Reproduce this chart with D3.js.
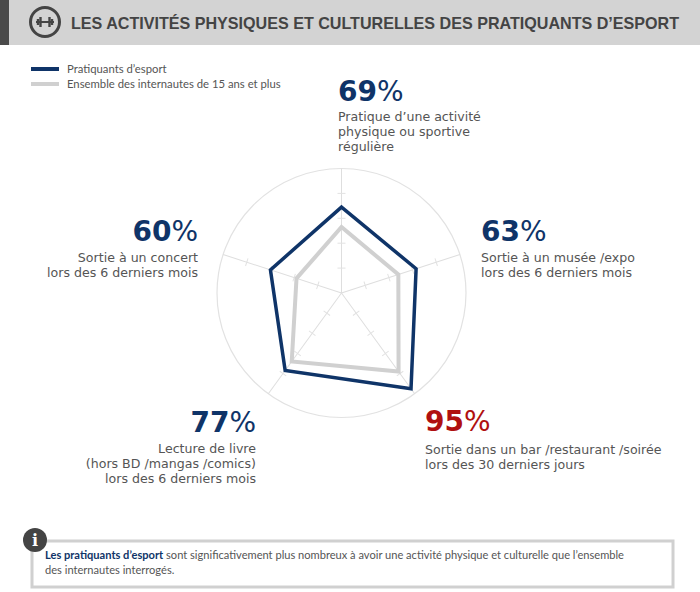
<!DOCTYPE html>
<html>
<head>
<meta charset="utf-8">
<script src="https://cdn.jsdelivr.net/npm/d3@7"></script>
<style>
  html, body { margin: 0; padding: 0; background: #fff; }
  svg { display: block; }
  text { font-family: "Lato", sans-serif; fill: #555; }
  .pct { font-family: "DejaVu Sans", sans-serif; font-weight: 700; font-size: 28px; }
  .pct .sign { font-weight: 400; }
  .line { font-family: "DejaVu Sans", sans-serif; font-size: 12.6px; }
</style>
</head>
<body>
<svg id="chart" width="700" height="592"></svg>
<script>
// values, clockwise from the top
const categories = ['Activité physique', 'Musée / expo', 'Bar / restaurant / soirée', 'Livre', 'Concert'];
const pratiquants = [69, 63, 95, 77, 60];
const ensemble = [53, 48, 78, 68, 38];
const ticks = [20, 40, 60, 80];

const seriesNames = ['Pratiquants d’esport', 'Ensemble des internautes de 15 ans et plus'];
const labelLines = [
  ['Pratique d’une activité', 'physique ou sportive', 'régulière'],
  ['Sortie à un musée /expo', 'lors des 6 derniers mois'],
  ['Sortie dans un bar /restaurant /soirée', 'lors des 30 derniers jours'],
  ['Lecture de livre', '(hors BD /mangas /comics)', 'lors des 6 derniers mois'],
  ['Sortie à un concert', 'lors des 6 derniers mois']
];
const title = 'LES ACTIVITÉS PHYSIQUES ET CULTURELLES DES PRATIQUANTS D’ESPORT';

const blue = '#0f3468', grey = '#d0d0d0', red = '#b01010', dark = '#444';

const svg = d3.select('#chart');

// header
svg.append('rect').attr('width', 700).attr('height', 45).attr('fill', '#d3d3d3');
svg.append('rect').attr('width', 9).attr('height', 45).attr('fill', '#4a4a4a');

const icon = svg.append('g').attr('transform', 'translate(45,22)');
icon.append('circle').attr('r', 14.5).attr('fill', 'none').attr('stroke', dark).attr('stroke-width', 3);
icon.append('line').attr('x1', -9).attr('x2', 9).attr('stroke', dark).attr('stroke-width', 2);
[-7, -4.5, 4.5, 7].forEach(x => {
  icon.append('line').attr('x1', x).attr('x2', x)
    .attr('y1', Math.abs(x) > 5 ? -3 : -5).attr('y2', Math.abs(x) > 5 ? 3 : 5)
    .attr('stroke', dark).attr('stroke-width', 2.4);
});

svg.append('text').attr('x', 71).attr('y', 29)
  .attr('textLength', 608).attr('lengthAdjust', 'spacingAndGlyphs')
  .style('font-family', '"Liberation Sans", sans-serif')
  .style('font-weight', 700).style('font-size', '16.4px').style('fill', dark)
  .text(title);

// legend
const legend = svg.selectAll('.legend').data(seriesNames).enter().append('g')
  .attr('class', 'legend')
  .attr('transform', (d, i) => `translate(31,${69 + i * 15})`);
legend.append('line').attr('x2', 28).attr('stroke-width', 4)
  .attr('stroke', (d, i) => i === 0 ? blue : grey);
legend.append('text').attr('x', 36).attr('y', 4)
  .style('font-size', '11.3px').text(d => d);

// radar
const cx = 341.5, cy = 293;
const r = d3.scaleLinear().domain([0, 100]).range([0, 124.5]);
const angle = d3.scalePoint().domain(d3.range(categories.length))
  .range([0, 2 * Math.PI * (categories.length - 1) / categories.length]);

const radar = svg.append('g').attr('transform', `translate(${cx},${cy})`);
radar.append('circle').attr('r', r(100)).attr('fill', 'none').attr('stroke', '#e2e2e2').attr('stroke-width', 1.2);

const spokes = radar.selectAll('.spoke').data(categories).enter().append('g')
  .attr('class', 'spoke')
  .attr('transform', (d, i) => `rotate(${angle(i) * 180 / Math.PI})`);
spokes.append('line').attr('y2', -r(100)).attr('stroke', '#dedede').attr('stroke-width', 1);
spokes.selectAll('.tick').data(ticks).enter().append('line')
  .attr('class', 'tick')
  .attr('x1', -4).attr('x2', 4)
  .attr('y1', d => -r(d)).attr('y2', d => -r(d))
  .attr('stroke', '#e2e2e2').attr('stroke-width', 1);

const shape = d3.lineRadial()
  .angle((d, i) => angle(i))
  .radius(d => r(d))
  .curve(d3.curveLinearClosed);

radar.append('path').attr('d', shape(ensemble)).attr('fill', 'none')
  .attr('stroke', grey).attr('stroke-width', 4).attr('stroke-linejoin', 'miter');
radar.append('path').attr('d', shape(pratiquants)).attr('fill', 'none')
  .attr('stroke', blue).attr('stroke-width', 3.5).attr('stroke-linejoin', 'miter');

// callouts: anchor x, baseline of the percentage, text anchor, gap to first label line
const callouts = [
  { x: 338, y: 101, anchor: 'start', dy: 19.5 },
  { x: 481, y: 241, anchor: 'start', dy: 21 },
  { x: 425, y: 431, anchor: 'start', dy: 22.5 },
  { x: 256, y: 432, anchor: 'end', dy: 20.5 },
  { x: 198, y: 241, anchor: 'end', dy: 21 }
];
const callout = svg.selectAll('.callout').data(pratiquants).enter().append('g')
  .attr('class', 'callout')
  .attr('transform', (d, i) => `translate(${callouts[i].x},${callouts[i].y})`)
  .attr('text-anchor', (d, i) => callouts[i].anchor);
const pct = callout.append('text').attr('class', 'pct')
  .style('fill', d => d === d3.max(pratiquants) ? red : blue);
pct.append('tspan').text(d => d);
pct.append('tspan').attr('class', 'sign').text('%');
callout.each(function(d, k) {
  d3.select(this).selectAll('.line').data(labelLines[k]).enter().append('text')
    .attr('class', 'line')
    .attr('y', (t, i) => callouts[k].dy + i * 15)
    .text(t => t);
});

// note
svg.append('rect').attr('x', 32).attr('y', 541).attr('width', 641).attr('height', 46)
  .attr('fill', '#fff').attr('stroke', '#d0d0d0').attr('stroke-width', 3);
svg.append('circle').attr('cx', 35).attr('cy', 540).attr('r', 12).attr('fill', '#444');
svg.append('text').attr('x', 35).attr('y', 546).attr('text-anchor', 'middle')
  .style('font-family', '"DejaVu Serif", serif').style('font-weight', 700)
  .style('font-size', '16px').style('fill', '#fff').text('i');
const note = svg.append('text').attr('x', 45).attr('y', 559).style('font-size', '11.1px');
note.append('tspan').style('font-weight', 700).style('fill', blue).text('Les pratiquants d’esport');
note.append('tspan').text(' sont significativement plus nombreux à avoir une activité physique et culturelle que l’ensemble');
svg.append('text').attr('x', 45).attr('y', 574).style('font-size', '11.1px').text('des internautes interrogés.');
</script>
</body>
</html>
